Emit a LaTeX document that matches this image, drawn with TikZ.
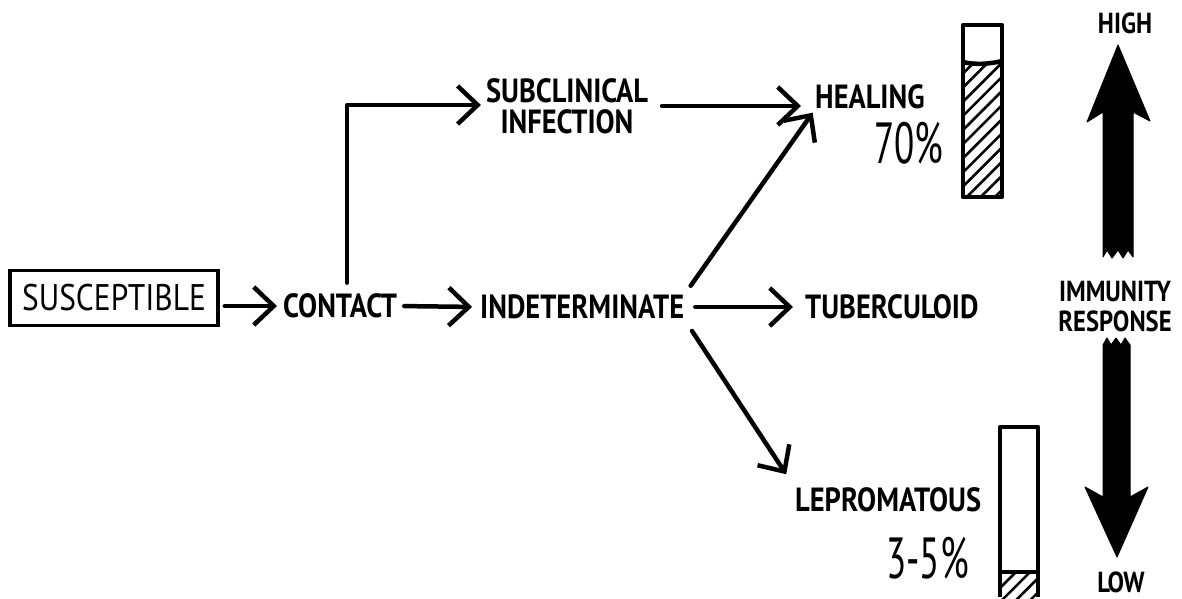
\documentclass[tikz,border=0pt]{standalone}
\usepackage{fontspec}
\setmainfont{PT Sans}
\newfontfamily\hand[FakeStretch=0.85]{PT Sans}
\newfontfamily\handnum[FakeStretch=0.64]{PT Sans}
\usetikzlibrary{arrows.meta,patterns.meta}
\begin{document}
\begin{tikzpicture}[x=1pt,y=-1pt,
  lbl/.style={font=\hand\bfseries\fontsize{33.5}{36}\selectfont, inner sep=0pt, anchor=west},
  lbl2/.style={font=\hand\bfseries\fontsize{33.5}{36}\selectfont, inner sep=0pt, align=center},
  side/.style={font=\hand\bfseries\fontsize{29}{32}\selectfont, inner sep=0pt, align=center},
  pct/.style={font=\handnum\fontsize{58}{60}\selectfont, inner sep=0pt, anchor=west},
  boxed/.style={draw, line width=3.5pt, font=\hand\fontsize{37}{40}\selectfont, minimum width=208pt, minimum height=55pt, inner sep=0pt},
  arr/.style={line width=4.5pt, line cap=round, line join=round, -{Straight Barb[length=20pt,width=38pt,line width=4.5pt]}},
  barline/.style={line width=4.5pt, line join=round},
  hatch/.style={pattern={Lines[angle=45,distance=10pt,line width=2.6pt]}},
  bigarrow/.style={fill=black, draw=black, line width=1pt, line join=round},
]
\useasboundingbox (0,0) rectangle (1182,598);

% nodes
\node[boxed] (sus) at (114,298) {SUSCEPTIBLE};
\node[lbl] (con) at (283,306) {CONTACT};
\node[lbl] (ind) at (480,307) {INDETERMINATE};
\node[lbl2, anchor=center] (sub) at (567,106) {SUBCLINICAL\\[-5pt]INFECTION};
\node[lbl] (heal) at (815,97) {HEALING};
\node[pct] (p70) at (874,143) {70\%};
\node[lbl] (tub) at (805,307) {TUBERCULOID};
\node[lbl] (lep) at (795,500) {LEPROMATOUS};
\node[pct] (p35) at (886,558) {3-5\%};
\node[side] (high) at (1125,23) {HIGH};
\node[side] (imm) at (1115,306) {IMMUNITY\\[-2pt]RESPONSE};
\node[side] (low) at (1121,582) {LOW};

% connectors
\coordinate (bend) at (347,105);
\draw[arr, shorten <=5pt, shorten >=6pt] (sus.east |- con.west) -- (con.west);
\draw[arr, shorten <=7pt, shorten >=8pt] (con.east) -- (ind.west);
\draw[arr, shorten <=11pt, shorten >=5pt] (bend |- con.north) -- (bend) -- (sub.west |- bend);
\draw[arr, shorten <=14pt, shorten >=14pt] (sub.east) -- (sub.east -| heal.west);
\draw[arr, shorten <=11pt, shorten >=4pt] (ind.north east) -- (heal.south west);
\draw[arr, shorten <=11pt, shorten >=12pt] (ind.east) -- (tub.west);
\draw[arr, shorten <=14pt, shorten >=16pt] (ind.south east) -- (lep.north west);

% healing bar
\fill[hatch] (963,62) rectangle (1002,197);
\draw[barline] (963,25) rectangle (1002,197);
\draw[barline] (963,62) .. controls (975,65) and (990,64) .. (1002,61);

% lepromatous bar
\fill[hatch] (1000,572) rectangle (1038,598);
\draw[barline] (1000,597) -- (1000,427) -- (1038,427) -- (1038,597);
\draw[barline] (1000,572) -- (1038,572);

% immunity arrows
\draw[bigarrow] (1118,45) -- (1150,121) -- (1133,112) -- (1133,257)
  -- (1128,250) -- (1123,258) -- (1118,250) -- (1112,258) -- (1107,250) -- (1103,257)
  -- (1103,112) -- (1087,122) -- cycle;
\draw[bigarrow] (1117,557) -- (1148,487) -- (1130,497) -- (1130,345)
  -- (1125,338) -- (1121,345) -- (1116,338) -- (1111,345) -- (1107,338) -- (1103,345)
  -- (1103,497) -- (1085,487) -- cycle;
\end{tikzpicture}
\end{document}
